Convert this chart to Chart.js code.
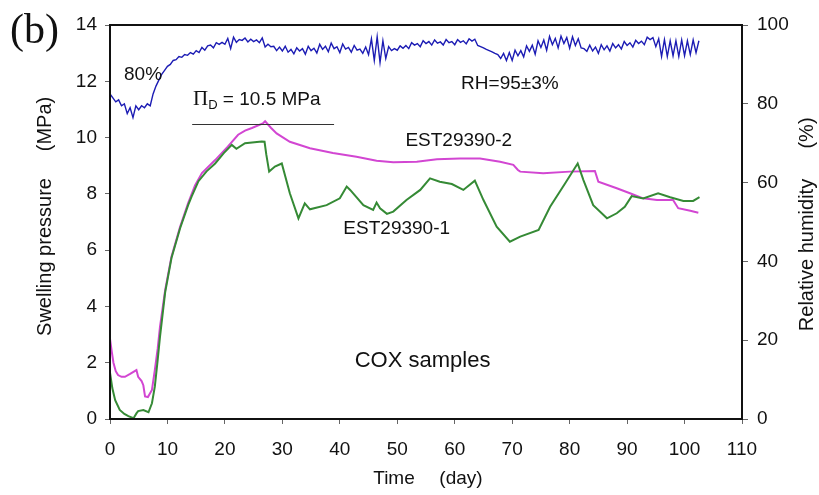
<!DOCTYPE html>
<html>
<head>
<meta charset="utf-8">
<script src="https://cdn.jsdelivr.net/npm/chart.js@4.4.1/dist/chart.umd.min.js"></script>
<style>
  html, body { margin: 0; padding: 0; background: #fff; }
  #wrap { width: 819px; height: 495px; }
</style>
</head>
<body>
<div id="wrap"><canvas id="c" width="819" height="495"></canvas></div>
<script>
// Swelling pressure of sample EST29390-2 (MPa) against time (day)
const pinkDay = [0, 0.3, 0.6, 1.0, 1.4, 2.0, 2.6, 3.5, 4.6, 4.9, 5.5, 5.8, 6.1, 6.6, 7.3, 7.8, 8.3, 8.7, 9.2, 9.6,
  10.7, 12.2, 13.6, 14.8, 16.0, 18.3, 20.5, 22.3, 23.5, 24.7, 26.6, 27.0, 28.0, 29.0, 31.3, 34.8, 38.8, 42.9, 46.4, 49.3,
  53.4, 56.9, 60.9, 64.4, 67.9, 70.2, 71.0, 71.4, 75.4, 80.0, 84.4, 85.0, 88.2, 90.5, 92.8, 95.2, 98.0, 98.9, 101.0, 102.4];
const pinkMPa = [2.85, 2.4, 2.0, 1.7, 1.56, 1.5, 1.5, 1.6, 1.74, 1.5, 1.35, 1.2, 0.8, 0.78, 1.03, 1.74, 2.5, 3.27, 4.0, 4.58,
  5.77, 6.83, 7.67, 8.3, 8.74, 9.2, 9.68, 10.1, 10.25, 10.34, 10.5, 10.58, 10.35, 10.15, 9.85, 9.62, 9.45, 9.32, 9.18, 9.12,
  9.14, 9.23, 9.26, 9.26, 9.14, 9.03, 8.85, 8.79, 8.73, 8.79, 8.81, 8.43, 8.2, 8.02, 7.84, 7.78, 7.78, 7.49, 7.4, 7.33];

// Swelling pressure of sample EST29390-1 (MPa) against time (day)
const greenDay = [0, 0.4, 0.9, 1.7, 2.5, 3.2, 4.1, 4.6, 4.9, 5.8, 6.7, 7.3, 7.8, 8.3, 8.7, 9.6, 10.7, 12.2, 13.6, 14.2,
  15.4, 16.8, 18.3, 19.8, 21.2, 22.0, 23.5, 26.4, 26.9, 27.2, 27.7, 28.7, 29.9, 31.3, 32.8, 33.9, 34.8, 37.7, 40.0, 41.2,
  41.8, 44.1, 45.8, 46.4, 47.0, 48.2, 49.3, 51.6, 54.0, 55.7, 57.4, 59.5, 61.5, 63.5, 65.0, 67.3, 69.6, 71.4, 74.6, 76.6,
  79.2, 81.4, 82.4, 84.1, 86.5, 88.2, 89.6, 90.8, 92.8, 95.4, 97.5, 99.8, 101.5, 102.6];
const greenMPa = [1.65, 1.1, 0.67, 0.32, 0.18, 0.1, 0.03, 0.2, 0.28, 0.32, 0.24, 0.56, 1.15, 2.1, 2.92, 4.5, 5.72, 6.78, 7.6, 7.9,
  8.45, 8.8, 9.08, 9.45, 9.74, 9.6, 9.8, 9.86, 9.85, 9.4, 8.79, 8.97, 9.08, 8.02, 7.13, 7.66, 7.45, 7.6, 7.84, 8.26,
  8.14, 7.6, 7.43, 7.69, 7.49, 7.29, 7.37, 7.78, 8.14, 8.55, 8.43, 8.35, 8.14, 8.47, 7.78, 6.83, 6.3, 6.48, 6.72, 7.54,
  8.37, 9.08, 8.49, 7.6, 7.13, 7.31, 7.54, 7.92, 7.84, 8.02, 7.88, 7.75, 7.75, 7.88];

// Relative humidity (%), logged every half day from day 0
const rhStartDay = 0;
const rhStepDay = 0.5;
const rhPercent = [
  82.5, 81.5, 80.5, 81, 79.5, 80, 77.5, 79, 76.5, 79.5,
  78.5, 79.5, 79, 80, 79.5, 82.5, 84.5, 86, 87.5, 88.5,
  89.5, 90, 91, 91.2, 92, 91.8, 92.5, 92.3, 93, 92.6,
  93.5, 93.0, 94.3, 93.6, 94.7, 94.9, 94.2, 95.5, 95.1, 95.6,
  95.1, 96.6, 94.0, 96.9, 95.6, 96.3, 96.1, 96.7, 95.7, 96.4,
  95.8, 96.2, 95.5, 96.7, 94.4, 95.1, 94.5, 94.6, 93.5, 94.4,
  93.4, 94.6, 93.1, 93.8, 92.7, 94.2, 93.4, 94.0, 92.6, 94.6,
  93.5, 94.1, 92.9, 95.1, 93.8, 94.6, 93.2, 95.4, 94.0, 94.5,
  93.0, 95.2, 93.9, 94.3, 93.1, 94.8, 93.6, 93.9, 92.8, 94.4,
  92.5, 96.5, 91, 97, 90.5, 96, 91.5, 94.5, 93.5, 94,
  93.6, 94.7, 94.1, 94.8, 94.0, 95.5, 94.9, 95.3, 94.5, 96.0,
  95.3, 95.8, 94.9, 96.2, 95.4, 95.7, 94.9, 96.3, 95.5, 95.8,
  95.0, 96.3, 95.6, 96.0, 95.2, 96.5, 95.9, 96.4, 94.8, 94.5,
  94.2, 93.8, 93.5, 93.2, 92.8, 92.5, 91.5, 92.8, 91, 93,
  91.0, 93.6, 92.2, 93.5, 91.9, 94.7, 93.3, 94.9, 92.6, 96.0,
  94.3, 96.2, 93.6, 97.1, 95.0, 96.6, 94.2, 97.2, 95.3, 96.8,
  94.1, 97.0, 94.8, 96.5, 94.2, 94.0, 93.3, 94.9, 93.4, 94.4,
  92.8, 95.0, 93.7, 94.7, 93.4, 95.3, 94.2, 95.0, 93.9, 95.8,
  94.8, 95.5, 94.4, 96.1, 95.3, 95.9, 95.0, 96.9, 96.3, 96.8,
  94.5, 96.5, 92, 96.3, 92, 96, 92.2, 96, 92, 96.2,
  92.2, 96, 92.5, 96.2, 93, 96
];

// Axis tick values
const timeTicks = [0, 10, 20, 30, 40, 50, 60, 70, 80, 90, 100, 110];
const pressureTicks = [0, 2, 4, 6, 8, 10, 12, 14];
const humidityTicks = [0, 20, 40, 60, 80, 100];

// Dismantling swelling pressure marked above the curves
const piDValue = 10.5;
const piDFromDay = 14.3;
const piDToDay = 39.0;

const SANS = "'Liberation Sans', Arial, sans-serif";
const SERIF = "'Liberation Serif', 'Times New Roman', serif";

const zip = (xs, ys) => xs.map((v, i) => ({ x: v, y: ys[i] }));
const rhPoints = rhPercent.map((v, i) => ({ x: rhStartDay + i * rhStepDay, y: v }));

const setTicks = values => axis => { axis.ticks = values.map(v => ({ value: v })); };

// Text labels placed in data coordinates (day, MPa)
const labels = [
  { text: '80%', day: 5.75, mpa: 12.22, size: 19 },
  { text: 'RH=95\u00b13%', day: 69.6, mpa: 11.92, size: 19 },
  { text: 'EST29390-2', day: 60.7, mpa: 9.88, size: 19 },
  { text: 'EST29390-1', day: 49.9, mpa: 6.75, size: 19 },
  { text: 'COX samples', day: 54.4, mpa: 2.06, size: 22 }
];

const notes = {
  id: 'notes',
  afterDatasetsDraw(chart) {
    const { ctx, chartArea: a, scales: { x, y } } = chart;
    ctx.save();

    // plot frame
    ctx.strokeStyle = '#111';
    ctx.lineWidth = 2;
    ctx.strokeRect(a.left, a.top, a.right - a.left, a.bottom - a.top);

    // Π_D level line
    const yl = Math.round(y.getPixelForValue(piDValue)) + 0.5;
    ctx.strokeStyle = '#333';
    ctx.lineWidth = 1;
    ctx.beginPath();
    ctx.moveTo(x.getPixelForValue(piDFromDay), yl);
    ctx.lineTo(x.getPixelForValue(piDToDay), yl);
    ctx.stroke();

    ctx.fillStyle = '#111';
    ctx.textBaseline = 'middle';
    ctx.textAlign = 'center';
    for (const l of labels) {
      ctx.font = l.size + 'px ' + SANS;
      ctx.fillText(l.text, x.getPixelForValue(l.day), y.getPixelForValue(l.mpa));
    }

    // Π_D = 10.5 MPa
    ctx.textAlign = 'left';
    let px = x.getPixelForValue(14.45);
    const py = y.getPixelForValue(11.35);
    ctx.font = '21px ' + SERIF;
    ctx.fillText('\u03a0', px, py);
    px += ctx.measureText('\u03a0').width;
    ctx.font = '13px ' + SANS;
    ctx.fillText('D', px, py + 6);
    px += ctx.measureText('D').width;
    ctx.font = '19px ' + SANS;
    ctx.fillText(' = ' + piDValue.toFixed(1) + ' MPa', px, py);

    // panel letter
    ctx.textBaseline = 'alphabetic';
    ctx.font = '42px ' + SERIF;
    ctx.fillText('(b)', 10, 43);

    // axis titles
    ctx.textBaseline = 'middle';
    ctx.textAlign = 'center';
    ctx.font = '19px ' + SANS;
    ctx.fillText('Time', 394, 479);
    ctx.fillText('(day)', 461, 479);

    ctx.font = '20px ' + SANS;
    ctx.save();
    ctx.translate(45, 0);
    ctx.rotate(-Math.PI / 2);
    ctx.fillText('Swelling pressure', -257, 0);
    ctx.fillText('(MPa)', -124, 0);
    ctx.restore();

    ctx.save();
    ctx.translate(807, 0);
    ctx.rotate(-Math.PI / 2);
    ctx.fillText('Relative humidity', -255, 0);
    ctx.fillText('(%)', -133, 0);
    ctx.restore();

    ctx.restore();
  }
};

const tickFont = { family: SANS, size: 19 };
const gridStyle = { display: true, drawOnChartArea: false, drawTicks: true, tickLength: 5, color: '#666', lineWidth: 1 };

new Chart(document.getElementById('c'), {
  type: 'line',
  data: {
    datasets: [
      { label: 'RH', data: rhPoints, yAxisID: 'y2', borderColor: '#1c1cb4', borderWidth: 1.4, pointRadius: 0, tension: 0, fill: false },
      { label: 'EST29390-1', data: zip(greenDay, greenMPa), yAxisID: 'y', borderColor: '#358a35', borderWidth: 2, pointRadius: 0, tension: 0, fill: false },
      { label: 'EST29390-2', data: zip(pinkDay, pinkMPa), yAxisID: 'y', borderColor: '#d246d2', borderWidth: 2, pointRadius: 0, tension: 0, fill: false }
    ]
  },
  options: {
    responsive: false,
    animation: false,
    devicePixelRatio: 1,
    layout: { padding: { left: 0, right: 0, top: 25, bottom: 0 } },
    plugins: { legend: { display: false }, tooltip: { enabled: false }, title: { display: false } },
    scales: {
      x: {
        type: 'linear', position: 'bottom', min: 0, max: 110,
        afterBuildTicks: setTicks(timeTicks),
        afterFit: s => { s.height = 76; },
        grid: gridStyle,
        border: { display: false },
        ticks: { font: tickFont, color: '#111', padding: 14, maxRotation: 0, autoSkip: false }
      },
      y: {
        type: 'linear', position: 'left', min: 0, max: 14,
        afterBuildTicks: setTicks(pressureTicks),
        afterFit: s => { s.width = 110; },
        grid: gridStyle,
        border: { display: false },
        ticks: { font: tickFont, color: '#111', padding: 8 }
      },
      y2: {
        type: 'linear', position: 'right', min: 0, max: 100,
        afterBuildTicks: setTicks(humidityTicks),
        afterFit: s => { s.width = 77; },
        grid: Object.assign({}, gridStyle, { tickLength: 6 }),
        border: { display: false },
        ticks: { font: tickFont, color: '#111', padding: 9 }
      }
    }
  },
  plugins: [notes]
});
</script>
</body>
</html>
